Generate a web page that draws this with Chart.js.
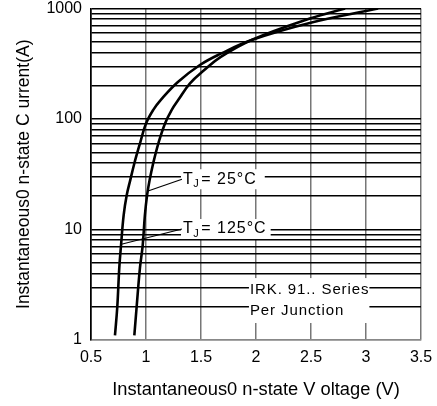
<!DOCTYPE html>
<html><head><meta charset="utf-8">
<script src="https://cdn.jsdelivr.net/npm/chart.js@4"></script>
<style>html,body{margin:0;padding:0;background:#fff}#wrap{width:437px;height:406px;position:relative}</style>
</head><body><div id="wrap"><canvas id="c"></canvas></div>
<script>
// Tj = 25°C curve (voltage V, current A)
const voltage25 = [0.894, 0.915, 0.945, 0.97, 0.99, 1.01, 1.033, 1.066, 1.112, 1.173, 1.234, 1.294, 1.40, 1.53, 1.68, 1.96, 2.497, 2.81];
const current25 = [1.1, 2, 4.5, 7.2, 13.5, 20.5, 28, 40, 60, 91, 121, 149, 210, 277, 365, 519, 815, 1000];
// Tj = 125°C curve
const voltage125 = [0.718, 0.739, 0.757, 0.773, 0.797, 0.825, 0.857, 0.895, 0.945, 1.0, 1.066, 1.135, 1.29, 1.49, 1.68, 1.96, 2.497, 3.11];
const current125 = [1.1, 2, 4.5, 7.2, 13.5, 20.5, 28, 40, 60, 91, 121, 149, 216, 308, 390, 519, 744, 1000];

const xTickValues = [0.5, 1, 1.5, 2, 2.5, 3, 3.5];
const yTickValues = [1,2,3,4,5,6,7,8,9,10,20,30,40,50,60,70,80,90,100,200,300,400,500,600,700,800,900,1000];
const yTickLabels = [1, 10, 100, 1000];
const xTitle = 'Instantaneous0 n-state V oltage (V)';
const yTitle = 'Instantaneous0 n-state C urrent(A)';
const label25 = ['T', 'J', '= 25°C'];
const label125 = ['T', 'J', '= 125°C'];
const noteLines = ['IRK. 91.. Series', 'Per Junction'];

const FONT = "'Liberation Sans', Arial, sans-serif";

function pts(xs, ys) { return xs.map((v, i) => ({x: v, y: ys[i]})); }

const notes = {
  id: 'notes',
  beforeDatasetsDraw(chart) {
    const {ctx, scales: {x, y}} = chart;
    const px = v => x.getPixelForValue(v), py = v => y.getPixelForValue(v);
    ctx.save();
    ctx.textBaseline = 'middle';
    ctx.textAlign = 'left';
    function tjLabel(parts, anchor, from, padR) {
      const x0 = px(anchor.x), y0 = py(anchor.y);
      ctx.letterSpacing = '0px';
      ctx.font = '16px ' + FONT;
      const wT = ctx.measureText(parts[0]).width;
      ctx.font = '11px ' + FONT;
      const wJ = ctx.measureText(parts[1]).width;
      ctx.font = '16px ' + FONT;
      ctx.letterSpacing = '1px';
      const wR = ctx.measureText(parts[2]).width;
      const total = wT + wJ + 3 + wR;
      ctx.fillStyle = '#fff';
      ctx.fillRect(x0 - 2, y0 - 10, total + padR + 2, 20);
      ctx.fillStyle = '#000';
      ctx.letterSpacing = '0px';
      ctx.font = '16px ' + FONT;
      ctx.fillText(parts[0], x0, y0);
      ctx.font = '11px ' + FONT;
      ctx.fillText(parts[1], x0 + wT + 0.5, y0 + 5);
      ctx.font = '16px ' + FONT;
      ctx.letterSpacing = '1px';
      ctx.fillText(parts[2], x0 + wT + wJ + 3, y0);
      ctx.letterSpacing = '0px';
      ctx.strokeStyle = '#000';
      ctx.lineWidth = 1.2;
      ctx.beginPath();
      ctx.moveTo(px(from.x), py(from.y));
      ctx.lineTo(x0 - 1, y0);
      ctx.stroke();
    }
    tjLabel(label25, {x: 1.336, y: 28.5}, {x: 1.025, y: 22.4}, 8);
    tjLabel(label125, {x: 1.336, y: 10.1}, {x: 0.776, y: 7.35}, 4);
    // series note
    const nx = px(1.945);
    const ny1 = py(2.83), ny2 = py(1.83);
    ctx.font = '15px ' + FONT;
    ctx.letterSpacing = '0.9px';
    const w = Math.max(...noteLines.map(t => ctx.measureText(t).width));
    ctx.fillStyle = '#fff';
    ctx.fillRect(nx - 1, ny1 - 12, w + 1, ny2 - ny1 + 24);
    ctx.fillStyle = '#000';
    ctx.fillText(noteLines[0], nx, ny1);
    ctx.fillText(noteLines[1], nx, ny2);
    ctx.restore();
  }
};

new Chart(document.getElementById('c'), {
  type: 'scatter',
  data: {
    datasets: [
      {label: 'Tj = 25°C', data: pts(voltage25, current25), showLine: true, borderColor: '#000', borderWidth: 2.6, pointRadius: 0, tension: 0.4, fill: false},
      {label: 'Tj = 125°C', data: pts(voltage125, current125), showLine: true, borderColor: '#000', borderWidth: 2.6, pointRadius: 0, tension: 0.4, fill: false}
    ]
  },
  options: {
    responsive: true,
    maintainAspectRatio: false,
    animation: false,
    layout: {padding: {left: 0, right: 16, top: 8.5, bottom: 0}},
    plugins: {legend: {display: false}, tooltip: {enabled: false}},
    scales: {
      x: {
        type: 'linear', min: 0.5, max: 3.5,
        afterBuildTicks: s => { s.ticks = xTickValues.map(v => ({value: v})); },
        afterFit: s => { s.height = 66; s.paddingLeft = 0; s.paddingRight = 0; },
        ticks: {color: '#000', font: {family: FONT, size: 16}, padding: 8, callback: v => String(v)},
        grid: {drawTicks: false, lineWidth: 1.5, color: c => (c.tick && c.tick.value === 0.5) ? '#000' : '#777'},
        border: {display: true, color: '#888', width: 1.5},
        title: {display: true, text: xTitle, color: '#000', font: {family: FONT, size: 18.3}, padding: {top: 0, bottom: 5}}
      },
      y: {
        type: 'logarithmic', min: 1, max: 1000,
        afterBuildTicks: s => { s.ticks = yTickValues.map(v => ({value: v})); },
        afterFit: s => { s.width = 91; s.paddingTop = 0; s.paddingBottom = 0; },
        ticks: {color: '#000', font: {family: FONT, size: 16}, padding: 9, autoSkip: false,
          callback: v => yTickLabels.includes(v) ? String(v) : ''},
        grid: {drawTicks: false, lineWidth: 1.5, color: c => (c.tick && c.tick.value === 1) ? '#888' : '#000'},
        border: {display: true, color: '#000', width: 1.5},
        title: {display: true, text: yTitle, color: '#000', font: {family: FONT, size: 17.5}, padding: {top: 14, bottom: 0}}
      }
    }
  },
  plugins: [notes]
});
</script>
</body></html>
